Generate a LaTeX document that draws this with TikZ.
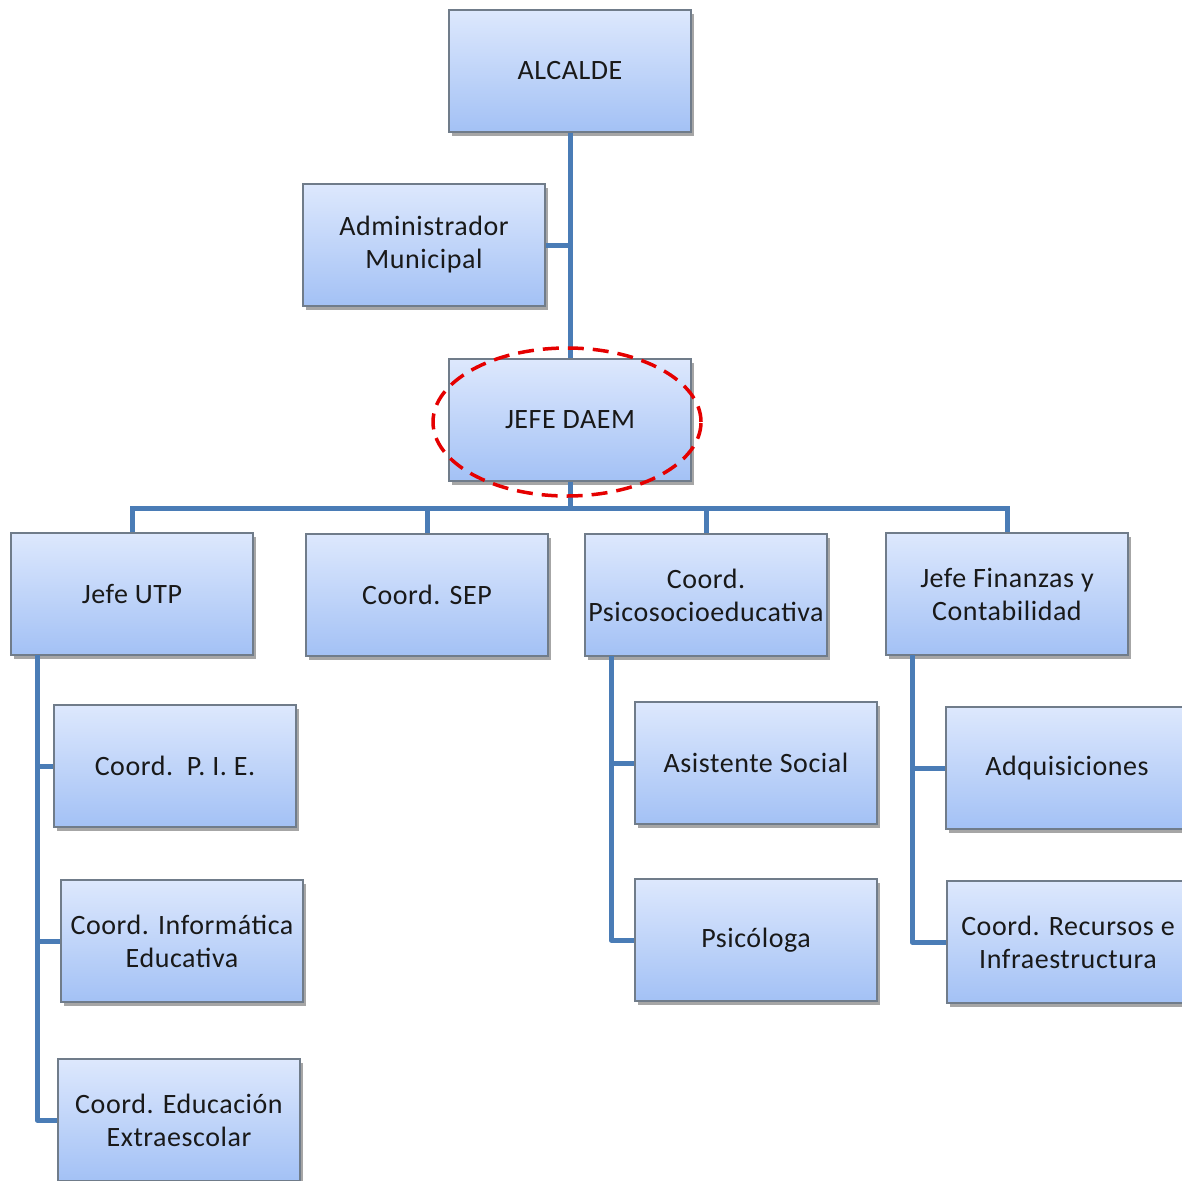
\documentclass[tikz,border=0pt]{standalone}
\usepackage{fontspec}
\setmainfont{Carlito}[LetterSpace=2]
\usetikzlibrary{shadows,shapes.geometric}
\definecolor{lineblue}{HTML}{4A7CB6}
\definecolor{boxtop}{HTML}{DDE8FD}
\definecolor{boxbot}{HTML}{A3C1F5}
\definecolor{boxedge}{HTML}{707C8A}
\tikzset{
  orgbox/.style={draw=boxedge, line width=1.2pt, top color=boxtop, bottom color=boxbot,
    minimum width=242pt, minimum height=122pt, inner sep=2pt, align=center,
    font=\fontsize{28}{33}\selectfont, text=black!90,
    drop shadow={shadow xshift=3pt, shadow yshift=-4pt, opacity=0.35, fill=black}},
  conn/.style={draw=lineblue, line width=5pt},
  hilite/.style={draw=red!90!black, line width=3.5pt, dash pattern=on 16pt off 9pt}
}
\begin{document}
\begin{tikzpicture}[x=1pt,y=-1pt]
\useasboundingbox (0,0) rectangle (1182,1180);
\coordinate (bus) at (570,508);
\coordinate (utpx) at (37,655);
\coordinate (psix) at (611,656);
\coordinate (finx) at (912,655);
% nodes
\node[orgbox] (alc) at (570,71) {ALCALDE};
\node[orgbox] (adm) at (424,245) {Administrador\\Municipal};
\node[orgbox] (daem) at (570,420) {JEFE DAEM};
\node[orgbox] (utp) at (132,594) {Jefe UTP};
\node[orgbox] (sep) at (427,595) {Coord. SEP};
\node[orgbox] (psi) at (706,595) {Coord.\\Psicosocioeducativa};
\node[orgbox] (fin) at (1007,594) {Jefe Finanzas y\\Contabilidad};
\node[orgbox] (pie) at (175,766) {Coord.\ \ P. I. E.};
\node[orgbox] (inf) at (182,941) {Coord. Informática\\Educativa};
\node[orgbox] (edu) at (179,1120) {Coord. Educación\\Extraescolar};
\node[orgbox] (asi) at (756,763) {Asistente Social};
\node[orgbox] (psc) at (756,940) {Psicóloga};
\node[orgbox] (adq) at (1067,768) {Adquisiciones};
\node[orgbox] (rec) at (1068,942) {Coord. Recursos e\\Infraestructura};
% lines
\draw[conn] (alc.south) -- (daem.north);
\draw[conn] (adm.east) -- (adm.east -| alc.south);
\draw[conn] (daem.south) -- (bus);
\draw[conn] (utp.north) -- (utp.north |- bus) -- (fin.north |- bus) -- (fin.north);
\draw[conn] (sep.north) -- (sep.north |- bus);
\draw[conn] (psi.north) -- (psi.north |- bus);
\draw[conn, line join=round] (utpx) |- (edu.west);
\draw[conn] (utpx |- pie.west) -- (pie.west);
\draw[conn] (utpx |- inf.west) -- (inf.west);
\draw[conn, line join=round] (psix) |- (psc.west);
\draw[conn] (psix |- asi.west) -- (asi.west);
\draw[conn, line join=round] (finx) |- (rec.west);
\draw[conn] (finx |- adq.west) -- (adq.west);
% highlight ellipse
\node[hilite, ellipse, minimum width=268pt, minimum height=148pt] (ring) at (567,422) {};
\end{tikzpicture}
\end{document}
